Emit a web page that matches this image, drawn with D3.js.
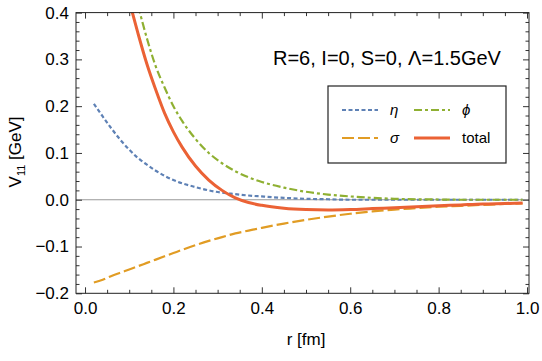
<!DOCTYPE html>
<html>
<head>
<meta charset="utf-8">
<script src="https://cdn.jsdelivr.net/npm/d3@7"></script>
<style>
  body { margin: 0; background: #fff; }
  text { font-family: "Liberation Sans", Arial, sans-serif; fill: #000; }
</style>
</head>
<body>
<div id="chart"></div>
<script>
// values (r in fm, V in GeV)
var rValues = [0.02, 0.04, 0.06, 0.08, 0.10, 0.12, 0.14, 0.16, 0.18, 0.20, 0.22, 0.25, 0.28, 0.31, 0.34, 0.37, 0.40, 0.45, 0.50, 0.55, 0.60, 0.65, 0.70, 0.75, 0.80, 0.85, 0.90, 0.95, 0.99];
var etaValues = [0.205, 0.178, 0.152, 0.128, 0.107, 0.089, 0.075, 0.062, 0.051, 0.042, 0.035, 0.027, 0.020, 0.015, 0.012, 0.009, 0.007, 0.004, 0.002, 0.001, 0, 0, 0, 0, 0, 0, 0, 0, 0];
var sigmaValues = [-0.177, -0.171, -0.163, -0.156, -0.149, -0.142, -0.135, -0.128, -0.121, -0.114, -0.107, -0.097, -0.088, -0.080, -0.072, -0.066, -0.060, -0.051, -0.043, -0.036, -0.030, -0.025, -0.021, -0.018, -0.015, -0.013, -0.011, -0.009, -0.008];
var phiValues = [null, null, null, null, null, 0.415, 0.345, 0.285, 0.240, 0.200, 0.168, 0.130, 0.100, 0.078, 0.061, 0.048, 0.038, 0.026, 0.017, 0.011, 0.007, 0.004, 0.002, 0.001, 0.0005, 0, 0, 0, 0];
var totalValues = [null, null, null, null, 0.425, 0.355, 0.290, 0.235, 0.185, 0.145, 0.112, 0.072, 0.042, 0.020, 0.004, -0.006, -0.012, -0.018, -0.021, -0.022, -0.021, -0.019, -0.017, -0.015, -0.013, -0.011, -0.009, -0.008, -0.007];

var xTicks = [0, 0.2, 0.4, 0.6, 0.8, 1.0];
var yTicks = [-0.2, -0.1, 0.0, 0.1, 0.2, 0.3, 0.4];

var series = [
    {name: "η", values: etaValues, color: "#5E81B5", width: 2.2, dash: "4,2.5"},
    {name: "ϕ", values: phiValues, color: "#8FB032", width: 2.2, dash: "8,3,3,3"},
    {name: "σ", values: sigmaValues, color: "#E19C24", width: 2.2, dash: "12,4"},
    {name: "total", values: totalValues, color: "#EB6235", width: 3, dash: null}
];

var width = 542, height = 361;
var margin = {top: 12.6, right: 13, bottom: 67.7, left: 76};
var plotW = width - margin.left - margin.right;
var plotH = height - margin.top - margin.bottom;

var xScale = d3.scaleLinear().domain([-0.0204, 1.0045]).range([0, plotW]);
var yScale = d3.scaleLinear().domain([-0.2, 0.4]).range([plotH, 0]);

var svg = d3.select('#chart')
    .append('svg')
    .attr('width', width)
    .attr('height', height)
    .append('g')
    .attr('transform', `translate(${margin.left}, ${margin.top})`);

svg.append('defs').append('clipPath').attr('id', 'clip')
    .append('rect').attr('width', plotW).attr('height', plotH);

// zero line
svg.append('line')
    .attr('x1', 0).attr('x2', plotW)
    .attr('y1', yScale(0)).attr('y2', yScale(0))
    .attr('stroke', '#999').attr('stroke-width', 1.2);

// curves
var line = d3.line()
    .defined(d => d[1] !== null)
    .x(d => xScale(d[0]))
    .y(d => yScale(d[1]))
    .curve(d3.curveMonotoneX);

var curves = svg.append('g').attr('clip-path', 'url(#clip)');
series.forEach(function (s) {
    curves.append('path')
        .datum(rValues.map((r, i) => [r, s.values[i]]))
        .attr('d', line)
        .attr('fill', 'none')
        .attr('stroke', s.color)
        .attr('stroke-width', s.width)
        .attr('stroke-dasharray', s.dash);
});

// frame with inward ticks on all sides
function styleAxis(g) {
    g.select('.domain').remove();
    g.selectAll('line').attr('stroke', '#333');
    g.selectAll('text').style('font-size', '17px')
        .style('font-family', '"Liberation Sans", Arial, sans-serif');
}
var fmt = d3.format('.1f');
var xMinor = d3.range(0, 1.001, 0.05).filter(v => Math.abs(v * 5 - Math.round(v * 5)) > 1e-6);
var yMinor = d3.range(-0.2, 0.401, 0.02).filter(v => Math.abs(v * 10 - Math.round(v * 10)) > 1e-6);

svg.append('g').attr('transform', `translate(0, ${plotH})`)
    .call(d3.axisBottom(xScale).tickValues(xTicks).tickFormat(fmt).tickSize(-6).tickPadding(9))
    .call(styleAxis);
svg.append('g').attr('transform', `translate(0, ${plotH})`)
    .call(d3.axisBottom(xScale).tickValues(xMinor).tickFormat('').tickSize(-3.5))
    .call(styleAxis);
svg.append('g')
    .call(d3.axisTop(xScale).tickValues(xTicks).tickFormat('').tickSize(-6))
    .call(styleAxis);
svg.append('g')
    .call(d3.axisTop(xScale).tickValues(xMinor).tickFormat('').tickSize(-3.5))
    .call(styleAxis);

svg.append('g')
    .call(d3.axisLeft(yScale).tickValues(yTicks).tickFormat(fmt).tickSize(-6).tickPadding(7))
    .call(styleAxis);
svg.append('g')
    .call(d3.axisLeft(yScale).tickValues(yMinor).tickFormat('').tickSize(-3.5))
    .call(styleAxis);
svg.append('g').attr('transform', `translate(${plotW}, 0)`)
    .call(d3.axisRight(yScale).tickValues(yTicks).tickFormat('').tickSize(-6))
    .call(styleAxis);
svg.append('g').attr('transform', `translate(${plotW}, 0)`)
    .call(d3.axisRight(yScale).tickValues(yMinor).tickFormat('').tickSize(-3.5))
    .call(styleAxis);

svg.append('rect')
    .attr('width', plotW).attr('height', plotH)
    .attr('fill', 'none').attr('stroke', '#222').attr('stroke-width', 1);

// axis labels
svg.append('text')
    .attr('x', xScale(0.5)).attr('y', plotH + 52)
    .attr('text-anchor', 'middle')
    .style('font-size', '17px')
    .text('r [fm]');

var yLabel = svg.append('text')
    .attr('transform', `translate(${-55}, ${plotH / 2 - 1}) rotate(-90)`)
    .attr('text-anchor', 'middle')
    .style('font-size', '17px');
yLabel.append('tspan').text('V');
yLabel.append('tspan').attr('dy', 4).style('font-size', '11px').text('11');
yLabel.append('tspan').attr('dy', -4).text(' [GeV]');

// annotation
svg.append('text')
    .attr('x', 273 - margin.left).attr('y', 52)
    .style('font-size', '20px')
    .text('R=6, I=0, S=0, Λ=1.5GeV');

// legend
var legend = svg.append('g').attr('transform', `translate(${328 - margin.left}, ${86 - margin.top})`);
legend.append('rect')
    .attr('width', 178).attr('height', 77)
    .attr('fill', '#fff').attr('stroke', '#222').attr('stroke-width', 1.2);

var legendPos = [[14, 24], [86, 24], [14, 52], [86, 52]];
series.forEach(function (s, i) {
    var p = legendPos[i];
    legend.append('line')
        .attr('x1', p[0]).attr('x2', p[0] + 36)
        .attr('y1', p[1]).attr('y2', p[1])
        .attr('stroke', s.color)
        .attr('stroke-width', s.width)
        .attr('stroke-dasharray', s.dash);
    legend.append('text')
        .attr('x', p[0] + 48).attr('y', p[1] + 5)
        .style('font-size', '15px')
        .style('font-style', s.name === 'total' ? 'normal' : 'italic')
        .text(s.name);
});
</script>
</body>
</html>
